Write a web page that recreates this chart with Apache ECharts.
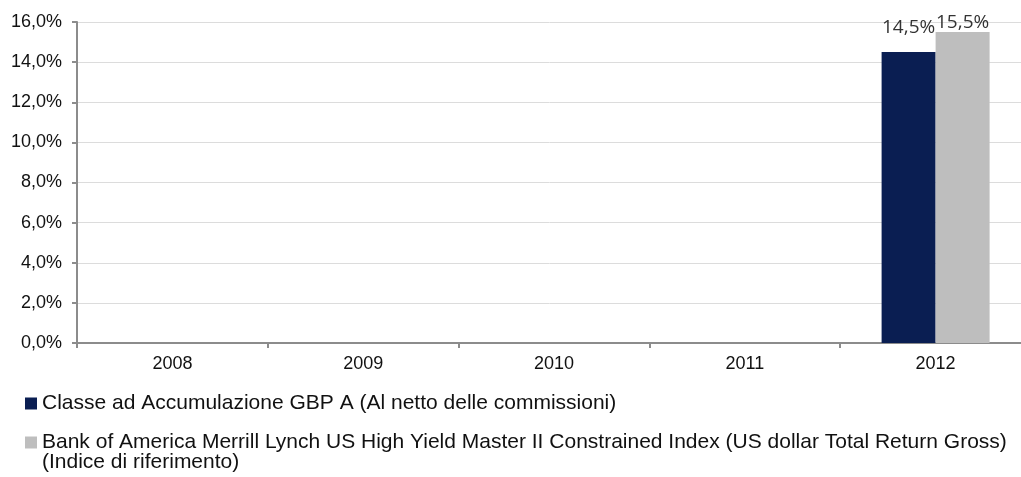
<!DOCTYPE html>
<html>
<head>
<meta charset="utf-8">
<script src="https://cdn.jsdelivr.net/npm/echarts@6/dist/echarts.min.js"></script>
<style>html,body{margin:0;padding:0;background:#fff;}#c{width:1021px;height:477px;}</style>
</head>
<body>
<div id="c"></div>
<script>
const categories = ['2008', '2009', '2010', '2011', '2012'];
const seriesNames = [
  'Classe ad Accumulazione GBP A (Al netto delle commissioni)',
  'Bank of America Merrill Lynch US High Yield Master II Constrained Index (US dollar Total Return Gross) (Indice di riferimento)'
];
const fundValues = [null, null, null, null, 14.5];
const indexValues = [null, null, null, null, 15.5];
const yTicks = { min: 0, max: 16, interval: 2 };

const fmtPct = v => v.toFixed(1).replace('.', ',') + '%';
const chart = echarts.init(document.getElementById('c'));
chart.setOption({
  animation: false,
  backgroundColor: '#fff',
  grid: { left: 77, width: 954, top: 22, bottom: 134, containLabel: false, outerBoundsMode: 'none' },
  legend: [
    {
      data: [seriesNames[0]], left: 20, top: 388, orient: 'vertical',
      icon: 'rect', itemWidth: 12, itemHeight: 12,
      textStyle: { fontFamily: 'Liberation Sans, Arial', fontSize: 21, color: '#111' }
    },
    {
      data: [seriesNames[1]], left: 20, top: 407, orient: 'vertical',
      icon: 'rect', itemWidth: 12, itemHeight: 12,
      formatter: n => ' \n' + n.replace(' (Indice', '\n(Indice'),
      textStyle: { fontFamily: 'Liberation Sans, Arial', fontSize: 21, color: '#111', lineHeight: 20 }
    }
  ],
  xAxis: {
    type: 'category', data: categories,
    axisLine: { lineStyle: { color: '#8c8c8c', width: 2 } },
    axisTick: { show: true, length: 5, lineStyle: { color: '#8c8c8c', width: 2 } },
    axisLabel: { fontFamily: 'Liberation Sans, Arial', fontSize: 18, color: '#111', margin: 12 }
  },
  yAxis: {
    type: 'value', min: yTicks.min, max: yTicks.max, interval: yTicks.interval,
    axisLine: { show: true, lineStyle: { color: '#8c8c8c', width: 2 } },
    axisTick: { show: true, length: 5, lineStyle: { color: '#8c8c8c', width: 2 } },
    splitLine: { lineStyle: { color: '#dcdcdc', width: 1 } },
    axisLabel: { fontFamily: 'Liberation Sans, Arial', fontSize: 18, color: '#111', margin: 15, formatter: fmtPct }
  },
  series: [
    {
      name: seriesNames[0], type: 'bar', data: fundValues, barWidth: 54, barGap: '0%',
      itemStyle: { color: '#0a1e52' },
      label: { show: true, position: 'top', distance: 15, formatter: p => fmtPct(p.value),
        fontFamily: 'Open Sans', fontSize: 19, color: '#333' }
    },
    {
      name: seriesNames[1], type: 'bar', data: indexValues, barWidth: 54, barGap: '0%',
      itemStyle: { color: '#bebebe' },
      label: { show: true, position: 'top', distance: 0, formatter: p => fmtPct(p.value),
        fontFamily: 'Open Sans', fontSize: 19, color: '#333' }
    }
  ]
});
</script>
</body>
</html>
